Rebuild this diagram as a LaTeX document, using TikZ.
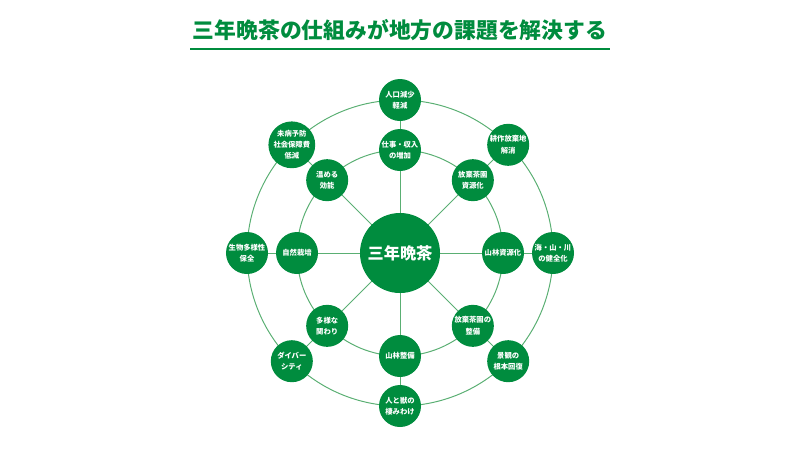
\documentclass[tikz,border=0pt]{standalone}
\usepackage{fontspec}
\setmainfont{Noto Sans CJK JP}
\usetikzlibrary{calc}
\definecolor{teagreen}{RGB}{0,140,62}
\definecolor{linegreen}{RGB}{90,175,115}
\tikzset{
	hub/.style={circle, fill=teagreen, text=white, minimum size=2cm, inner sep=0pt, font=\fontsize{11.5}{13}\selectfont\bfseries},
	leaf/.style={circle, fill=teagreen, text=white, minimum size=1.05cm, inner sep=0pt, align=center, font=\fontsize{5.2}{8}\selectfont\bfseries},
	ring/.style={linegreen, line width=0.7pt}
}
\begin{document}
\begin{tikzpicture}[x=0.025cm, y=-0.025cm]
	\useasboundingbox (0,0) rectangle (800,450);
	\def\rin{103}
	\def\rout{153}
	\coordinate (O) at (400,253);
	
	% title
	\node[text=teagreen, font=\fontsize{15.5}{17}\selectfont\bfseries] (title) at (400,30) {三年晩茶の仕組みが地方の課題を解決する};
	\draw[teagreen, line width=1.2pt] (190,49) -- (610,49);
	
	% rings and spokes
	\draw[ring] (O) circle (\rin);
	\draw[ring] (O) circle (\rout);
	\foreach \a in {0,45,...,315}
		\draw[ring] (O) -- ($(O)+(\a:\rout)$);
	
	\node[hub] (hub) at (O) {三年晩茶};
	
	% inner ring (y axis points down, so angles are negated)
	\node[leaf] (work) at ($(O)+(-90:\rin)$) {仕事・収入\\の増加};
	\node[leaf] (teares) at ($(O)+(-45:\rin)$) {放棄茶園\\資源化};
	\node[leaf] (forest) at ($(O)+(0:\rin)$) {山林資源化};
	\node[leaf] (teafix) at ($(O)+(45:\rin)$) {放棄茶園の\\整備};
	\node[leaf] (forfix) at ($(O)+(90:\rin)$) {山林整備};
	\node[leaf] (relate) at ($(O)+(135:\rin)$) {多様な\\関わり};
	\node[leaf] (natural) at ($(O)+(180:\rin)$) {自然栽培};
	\node[leaf] (warm) at ($(O)+(-135:\rin)$) {温める\\効能};
	
	% outer ring
	\node[leaf] (people) at ($(O)+(-90:\rout)$) {人口減少\\軽減};
	\node[leaf] (farm) at ($(O)+(-45:\rout)$) {耕作放棄地\\解消};
	\node[leaf] (sea) at ($(O)+(0:\rout)$) {海・山・川\\の健全化};
	\node[leaf] (scene) at ($(O)+(45:\rout)$) {景観の\\根本回復};
	\node[leaf] (beast) at ($(O)+(90:\rout)$) {人と獣の\\棲みわけ};
	\node[leaf] (diverse) at ($(O)+(135:\rout)$) {ダイバー\\シティ};
	\node[leaf] (bio) at ($(O)+(180:\rout)$) {生物多様性\\保全};
	\node[leaf] (health) at ($(O)+(-135:\rout)$) {未病予防\\社会保障費\\低減};
\end{tikzpicture}
\end{document}
